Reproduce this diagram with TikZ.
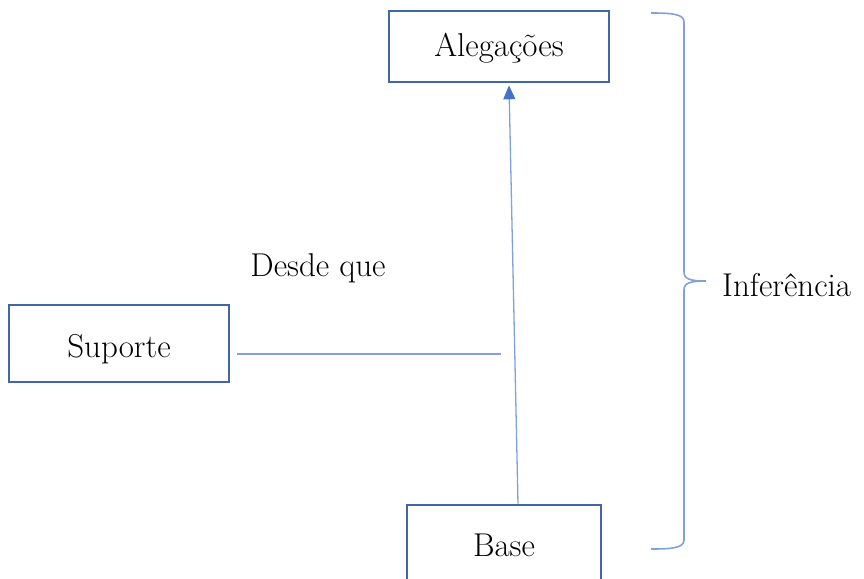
\documentclass[tikz,border=0pt]{standalone}
\usetikzlibrary{arrows.meta,calc}
\definecolor{boxblue}{RGB}{65,103,170}
\definecolor{lineblue}{RGB}{130,160,218}
\definecolor{headblue}{RGB}{68,114,196}
\newcommand{\lowertext}[2]{\smash{\raisebox{-#1}{#2}}\vphantom{#2}}
\begin{document}
\begin{tikzpicture}[x=1pt,y=-1pt,
  every node/.style={font=\fontsize{33}{39}\selectfont, text=black},
  box/.style={draw=boxblue, line width=2.6pt, fill=white, inner sep=0pt, anchor=center},
  conn/.style={draw=lineblue, line width=1.3pt},
  bracestyle/.style={draw=lineblue, line width=1.6pt}]
\useasboundingbox (0,0) rectangle (864,578);
\node[box, minimum width=220pt, minimum height=71pt] (aleg) at (499,46.5) {\lowertext{2pt}{Alegações}};
\node[box, minimum width=220pt, minimum height=77pt] (sup) at (119,343.5) {\lowertext{6pt}{Suporte}};
\node[box, minimum width=194pt, minimum height=80pt] (base) at (504,545) {Base};
\node[anchor=base] (desde) at (318,276) {Desde que};
\node[anchor=west, inner sep=0pt] (inf) at (722,285) {Inferência};
\coordinate (hs) at ($(sup.east)+(7,10.5)$);
\coordinate (he) at (501,354);
\draw[conn] (hs) -- (he);
\coordinate (bs) at ($(base.north)+(14,0)$);
\coordinate (at) at ($(aleg.south)+(10,2)$);
\draw[conn, -{Triangle[width=12pt,length=14pt,fill=headblue,color=headblue]}] (bs) -- (at);
\draw[bracestyle] (651,13) .. controls (672,13) and (684,14) .. (684,22)
  -- (684,272) .. controls (684,279) and (690,281) .. (706,281)
  .. controls (690,281) and (684,283) .. (684,290)
  -- (684,540) .. controls (684,548) and (672,549) .. (651,549);
\end{tikzpicture}
\end{document}
